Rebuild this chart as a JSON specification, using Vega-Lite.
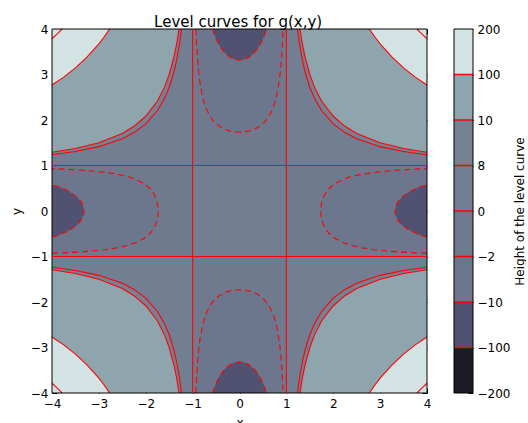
{
  "$schema": "https://vega.github.io/schema/vega-lite/v6.json",
  "padding": {"left": 10, "top": 15, "right": 0, "bottom": 0},
  "title": {"text": "Level curves for g(x,y)", "anchor": "middle", "dx": -30, "fontSize": 15, "fontWeight": "normal", "font": "DejaVu Sans", "color": "#000", "offset": -7},
  "config": {
    "font": "DejaVu Sans",
    "view": {"stroke": null},
    "axis": {"grid": false, "domain": false, "tickColor": "#000", "tickSize": -5, "labelFontSize": 12, "labelColor": "#000", "titleFontSize": 12, "titleFontWeight": "normal", "titleColor": "#000", "zindex": 1, "labelFont": "DejaVu Sans", "titleFont": "DejaVu Sans", "labelPadding": 9, "titlePadding": 7, "labelFlush": false, "labelOverlap": false}
  },
  "datasets": {
    "cells": [
      {"x1": -1, "x2": 1, "y1": -1, "y2": 1, "band": "0 to 8"},
      {"x1": 1, "x2": 4, "y1": 1, "y2": 4, "band": "0 to 8"},
      {"x1": -4, "x2": -1, "y1": 1, "y2": 4, "band": "0 to 8"},
      {"x1": 1, "x2": 4, "y1": -4, "y2": -1, "band": "0 to 8"},
      {"x1": -4, "x2": -1, "y1": -4, "y2": -1, "band": "0 to 8"},
      {"x1": -1, "x2": 1, "y1": 1, "y2": 4, "band": "-2 to 0"},
      {"x1": -1, "x2": 1, "y1": -4, "y2": -1, "band": "-2 to 0"},
      {"x1": -4, "x2": -1, "y1": -1, "y2": 1, "band": "-2 to 0"},
      {"x1": 1, "x2": 4, "y1": -1, "y2": 1, "band": "-2 to 0"}
    ],
    "zero": [
      {"k": "v-1", "x": -1, "y": -4}, {"k": "v-1", "x": -1, "y": 4},
      {"k": "v1", "x": 1, "y": -4}, {"k": "v1", "x": 1, "y": 4},
      {"k": "h-1", "x": -4, "y": -1}, {"k": "h-1", "x": 4, "y": -1},
      {"k": "h1", "x": -4, "y": 1}, {"k": "h1", "x": 4, "y": 1}
    ],
    "vc": [
      {"q": "TR", "c": 8, "x": 1.238, "y": 4, "e": 4},
      {"q": "TR", "c": 8, "x": 1.25, "y": 3.902, "e": 4},
      {"q": "TR", "c": 8, "x": 1.27, "y": 3.749, "e": 4},
      {"q": "TR", "c": 8, "x": 1.3, "y": 3.549, "e": 4},
      {"q": "TR", "c": 8, "x": 1.35, "y": 3.275, "e": 4},
      {"q": "TR", "c": 8, "x": 1.4, "y": 3.055, "e": 4},
      {"q": "TR", "c": 8, "x": 1.5, "y": 2.72, "e": 4},
      {"q": "TR", "c": 8, "x": 1.6, "y": 2.476, "e": 4},
      {"q": "TR", "c": 8, "x": 1.75, "y": 2.209, "e": 4},
      {"q": "TR", "c": 8, "x": 2, "y": 1.915, "e": 4},
      {"q": "TR", "c": 8, "x": 2.25, "y": 1.723, "e": 4},
      {"q": "TR", "c": 8, "x": 2.5, "y": 1.589, "e": 4},
      {"q": "TR", "c": 8, "x": 3, "y": 1.414, "e": 4},
      {"q": "TR", "c": 8, "x": 3.5, "y": 1.308, "e": 4},
      {"q": "TR", "c": 8, "x": 4, "y": 1.238, "e": 4},
      {"q": "TL", "c": 8, "x": -1.238, "y": 4, "e": 4},
      {"q": "TL", "c": 8, "x": -1.25, "y": 3.902, "e": 4},
      {"q": "TL", "c": 8, "x": -1.27, "y": 3.749, "e": 4},
      {"q": "TL", "c": 8, "x": -1.3, "y": 3.549, "e": 4},
      {"q": "TL", "c": 8, "x": -1.35, "y": 3.275, "e": 4},
      {"q": "TL", "c": 8, "x": -1.4, "y": 3.055, "e": 4},
      {"q": "TL", "c": 8, "x": -1.5, "y": 2.72, "e": 4},
      {"q": "TL", "c": 8, "x": -1.6, "y": 2.476, "e": 4},
      {"q": "TL", "c": 8, "x": -1.75, "y": 2.209, "e": 4},
      {"q": "TL", "c": 8, "x": -2, "y": 1.915, "e": 4},
      {"q": "TL", "c": 8, "x": -2.25, "y": 1.723, "e": 4},
      {"q": "TL", "c": 8, "x": -2.5, "y": 1.589, "e": 4},
      {"q": "TL", "c": 8, "x": -3, "y": 1.414, "e": 4},
      {"q": "TL", "c": 8, "x": -3.5, "y": 1.308, "e": 4},
      {"q": "TL", "c": 8, "x": -4, "y": 1.238, "e": 4},
      {"q": "BR", "c": 8, "x": 1.238, "y": -4, "e": -4},
      {"q": "BR", "c": 8, "x": 1.25, "y": -3.902, "e": -4},
      {"q": "BR", "c": 8, "x": 1.27, "y": -3.749, "e": -4},
      {"q": "BR", "c": 8, "x": 1.3, "y": -3.549, "e": -4},
      {"q": "BR", "c": 8, "x": 1.35, "y": -3.275, "e": -4},
      {"q": "BR", "c": 8, "x": 1.4, "y": -3.055, "e": -4},
      {"q": "BR", "c": 8, "x": 1.5, "y": -2.72, "e": -4},
      {"q": "BR", "c": 8, "x": 1.6, "y": -2.476, "e": -4},
      {"q": "BR", "c": 8, "x": 1.75, "y": -2.209, "e": -4},
      {"q": "BR", "c": 8, "x": 2, "y": -1.915, "e": -4},
      {"q": "BR", "c": 8, "x": 2.25, "y": -1.723, "e": -4},
      {"q": "BR", "c": 8, "x": 2.5, "y": -1.589, "e": -4},
      {"q": "BR", "c": 8, "x": 3, "y": -1.414, "e": -4},
      {"q": "BR", "c": 8, "x": 3.5, "y": -1.308, "e": -4},
      {"q": "BR", "c": 8, "x": 4, "y": -1.238, "e": -4},
      {"q": "BL", "c": 8, "x": -1.238, "y": -4, "e": -4},
      {"q": "BL", "c": 8, "x": -1.25, "y": -3.902, "e": -4},
      {"q": "BL", "c": 8, "x": -1.27, "y": -3.749, "e": -4},
      {"q": "BL", "c": 8, "x": -1.3, "y": -3.549, "e": -4},
      {"q": "BL", "c": 8, "x": -1.35, "y": -3.275, "e": -4},
      {"q": "BL", "c": 8, "x": -1.4, "y": -3.055, "e": -4},
      {"q": "BL", "c": 8, "x": -1.5, "y": -2.72, "e": -4},
      {"q": "BL", "c": 8, "x": -1.6, "y": -2.476, "e": -4},
      {"q": "BL", "c": 8, "x": -1.75, "y": -2.209, "e": -4},
      {"q": "BL", "c": 8, "x": -2, "y": -1.915, "e": -4},
      {"q": "BL", "c": 8, "x": -2.25, "y": -1.723, "e": -4},
      {"q": "BL", "c": 8, "x": -2.5, "y": -1.589, "e": -4},
      {"q": "BL", "c": 8, "x": -3, "y": -1.414, "e": -4},
      {"q": "BL", "c": 8, "x": -3.5, "y": -1.308, "e": -4},
      {"q": "BL", "c": 8, "x": -4, "y": -1.238, "e": -4},

      {"q": "TR", "c": 10, "x": 1.291, "y": 4, "e": 4},
      {"q": "TR", "c": 10, "x": 1.3, "y": 3.936, "e": 4},
      {"q": "TR", "c": 10, "x": 1.32, "y": 3.804, "e": 4},
      {"q": "TR", "c": 10, "x": 1.35, "y": 3.627, "e": 4},
      {"q": "TR", "c": 10, "x": 1.4, "y": 3.379, "e": 4},
      {"q": "TR", "c": 10, "x": 1.5, "y": 3, "e": 4},
      {"q": "TR", "c": 10, "x": 1.6, "y": 2.722, "e": 4},
      {"q": "TR", "c": 10, "x": 1.75, "y": 2.418, "e": 4},
      {"q": "TR", "c": 10, "x": 2, "y": 2.082, "e": 4},
      {"q": "TR", "c": 10, "x": 2.25, "y": 1.861, "e": 4},
      {"q": "TR", "c": 10, "x": 2.5, "y": 1.704, "e": 4},
      {"q": "TR", "c": 10, "x": 3, "y": 1.5, "e": 4},
      {"q": "TR", "c": 10, "x": 3.5, "y": 1.374, "e": 4},
      {"q": "TR", "c": 10, "x": 4, "y": 1.291, "e": 4},
      {"q": "TL", "c": 10, "x": -1.291, "y": 4, "e": 4},
      {"q": "TL", "c": 10, "x": -1.3, "y": 3.936, "e": 4},
      {"q": "TL", "c": 10, "x": -1.32, "y": 3.804, "e": 4},
      {"q": "TL", "c": 10, "x": -1.35, "y": 3.627, "e": 4},
      {"q": "TL", "c": 10, "x": -1.4, "y": 3.379, "e": 4},
      {"q": "TL", "c": 10, "x": -1.5, "y": 3, "e": 4},
      {"q": "TL", "c": 10, "x": -1.6, "y": 2.722, "e": 4},
      {"q": "TL", "c": 10, "x": -1.75, "y": 2.418, "e": 4},
      {"q": "TL", "c": 10, "x": -2, "y": 2.082, "e": 4},
      {"q": "TL", "c": 10, "x": -2.25, "y": 1.861, "e": 4},
      {"q": "TL", "c": 10, "x": -2.5, "y": 1.704, "e": 4},
      {"q": "TL", "c": 10, "x": -3, "y": 1.5, "e": 4},
      {"q": "TL", "c": 10, "x": -3.5, "y": 1.374, "e": 4},
      {"q": "TL", "c": 10, "x": -4, "y": 1.291, "e": 4},
      {"q": "BR", "c": 10, "x": 1.291, "y": -4, "e": -4},
      {"q": "BR", "c": 10, "x": 1.3, "y": -3.936, "e": -4},
      {"q": "BR", "c": 10, "x": 1.32, "y": -3.804, "e": -4},
      {"q": "BR", "c": 10, "x": 1.35, "y": -3.627, "e": -4},
      {"q": "BR", "c": 10, "x": 1.4, "y": -3.379, "e": -4},
      {"q": "BR", "c": 10, "x": 1.5, "y": -3, "e": -4},
      {"q": "BR", "c": 10, "x": 1.6, "y": -2.722, "e": -4},
      {"q": "BR", "c": 10, "x": 1.75, "y": -2.418, "e": -4},
      {"q": "BR", "c": 10, "x": 2, "y": -2.082, "e": -4},
      {"q": "BR", "c": 10, "x": 2.25, "y": -1.861, "e": -4},
      {"q": "BR", "c": 10, "x": 2.5, "y": -1.704, "e": -4},
      {"q": "BR", "c": 10, "x": 3, "y": -1.5, "e": -4},
      {"q": "BR", "c": 10, "x": 3.5, "y": -1.374, "e": -4},
      {"q": "BR", "c": 10, "x": 4, "y": -1.291, "e": -4},
      {"q": "BL", "c": 10, "x": -1.291, "y": -4, "e": -4},
      {"q": "BL", "c": 10, "x": -1.3, "y": -3.936, "e": -4},
      {"q": "BL", "c": 10, "x": -1.32, "y": -3.804, "e": -4},
      {"q": "BL", "c": 10, "x": -1.35, "y": -3.627, "e": -4},
      {"q": "BL", "c": 10, "x": -1.4, "y": -3.379, "e": -4},
      {"q": "BL", "c": 10, "x": -1.5, "y": -3, "e": -4},
      {"q": "BL", "c": 10, "x": -1.6, "y": -2.722, "e": -4},
      {"q": "BL", "c": 10, "x": -1.75, "y": -2.418, "e": -4},
      {"q": "BL", "c": 10, "x": -2, "y": -2.082, "e": -4},
      {"q": "BL", "c": 10, "x": -2.25, "y": -1.861, "e": -4},
      {"q": "BL", "c": 10, "x": -2.5, "y": -1.704, "e": -4},
      {"q": "BL", "c": 10, "x": -3, "y": -1.5, "e": -4},
      {"q": "BL", "c": 10, "x": -3.5, "y": -1.374, "e": -4},
      {"q": "BL", "c": 10, "x": -4, "y": -1.291, "e": -4},

      {"q": "TR", "c": 100, "x": 2.769, "y": 4, "e": 4},
      {"q": "TR", "c": 100, "x": 2.8, "y": 3.952, "e": 4},
      {"q": "TR", "c": 100, "x": 2.9, "y": 3.807, "e": 4},
      {"q": "TR", "c": 100, "x": 3, "y": 3.674, "e": 4},
      {"q": "TR", "c": 100, "x": 3.25, "y": 3.385, "e": 4},
      {"q": "TR", "c": 100, "x": 3.5, "y": 3.145, "e": 4},
      {"q": "TR", "c": 100, "x": 3.75, "y": 2.942, "e": 4},
      {"q": "TR", "c": 100, "x": 4, "y": 2.769, "e": 4},
      {"q": "TL", "c": 100, "x": -2.769, "y": 4, "e": 4},
      {"q": "TL", "c": 100, "x": -2.8, "y": 3.952, "e": 4},
      {"q": "TL", "c": 100, "x": -2.9, "y": 3.807, "e": 4},
      {"q": "TL", "c": 100, "x": -3, "y": 3.674, "e": 4},
      {"q": "TL", "c": 100, "x": -3.25, "y": 3.385, "e": 4},
      {"q": "TL", "c": 100, "x": -3.5, "y": 3.145, "e": 4},
      {"q": "TL", "c": 100, "x": -3.75, "y": 2.942, "e": 4},
      {"q": "TL", "c": 100, "x": -4, "y": 2.769, "e": 4},
      {"q": "BR", "c": 100, "x": 2.769, "y": -4, "e": -4},
      {"q": "BR", "c": 100, "x": 2.8, "y": -3.952, "e": -4},
      {"q": "BR", "c": 100, "x": 2.9, "y": -3.807, "e": -4},
      {"q": "BR", "c": 100, "x": 3, "y": -3.674, "e": -4},
      {"q": "BR", "c": 100, "x": 3.25, "y": -3.385, "e": -4},
      {"q": "BR", "c": 100, "x": 3.5, "y": -3.145, "e": -4},
      {"q": "BR", "c": 100, "x": 3.75, "y": -2.942, "e": -4},
      {"q": "BR", "c": 100, "x": 4, "y": -2.769, "e": -4},
      {"q": "BL", "c": 100, "x": -2.769, "y": -4, "e": -4},
      {"q": "BL", "c": 100, "x": -2.8, "y": -3.952, "e": -4},
      {"q": "BL", "c": 100, "x": -2.9, "y": -3.807, "e": -4},
      {"q": "BL", "c": 100, "x": -3, "y": -3.674, "e": -4},
      {"q": "BL", "c": 100, "x": -3.25, "y": -3.385, "e": -4},
      {"q": "BL", "c": 100, "x": -3.5, "y": -3.145, "e": -4},
      {"q": "BL", "c": 100, "x": -3.75, "y": -2.942, "e": -4},
      {"q": "BL", "c": 100, "x": -4, "y": -2.769, "e": -4},

      {"q": "TR", "c": 200, "x": 3.786, "y": 4, "e": 4},
      {"q": "TR", "c": 200, "x": 3.85, "y": 3.933, "e": 4},
      {"q": "TR", "c": 200, "x": 3.9, "y": 3.883, "e": 4},
      {"q": "TR", "c": 200, "x": 4, "y": 3.786, "e": 4},
      {"q": "TL", "c": 200, "x": -3.786, "y": 4, "e": 4},
      {"q": "TL", "c": 200, "x": -3.85, "y": 3.933, "e": 4},
      {"q": "TL", "c": 200, "x": -3.9, "y": 3.883, "e": 4},
      {"q": "TL", "c": 200, "x": -4, "y": 3.786, "e": 4},
      {"q": "BR", "c": 200, "x": 3.786, "y": -4, "e": -4},
      {"q": "BR", "c": 200, "x": 3.85, "y": -3.933, "e": -4},
      {"q": "BR", "c": 200, "x": 3.9, "y": -3.883, "e": -4},
      {"q": "BR", "c": 200, "x": 4, "y": -3.786, "e": -4},
      {"q": "BL", "c": 200, "x": -3.786, "y": -4, "e": -4},
      {"q": "BL", "c": 200, "x": -3.85, "y": -3.933, "e": -4},
      {"q": "BL", "c": 200, "x": -3.9, "y": -3.883, "e": -4},
      {"q": "BL", "c": 200, "x": -4, "y": -3.786, "e": -4},

      {"q": "T", "c": -2, "x": -0.931, "y": 4, "e": 4},
      {"q": "T", "c": -2, "x": -0.925, "y": 3.854, "e": 4},
      {"q": "T", "c": -2, "x": -0.92, "y": 3.745, "e": 4},
      {"q": "T", "c": -2, "x": -0.9, "y": 3.395, "e": 4},
      {"q": "T", "c": -2, "x": -0.88, "y": 3.141, "e": 4},
      {"q": "T", "c": -2, "x": -0.85, "y": 2.865, "e": 4},
      {"q": "T", "c": -2, "x": -0.8, "y": 2.56, "e": 4},
      {"q": "T", "c": -2, "x": -0.75, "y": 2.36, "e": 4},
      {"q": "T", "c": -2, "x": -0.7, "y": 2.219, "e": 4},
      {"q": "T", "c": -2, "x": -0.6, "y": 2.031, "e": 4},
      {"q": "T", "c": -2, "x": -0.5, "y": 1.915, "e": 4},
      {"q": "T", "c": -2, "x": -0.4, "y": 1.839, "e": 4},
      {"q": "T", "c": -2, "x": -0.3, "y": 1.788, "e": 4},
      {"q": "T", "c": -2, "x": -0.2, "y": 1.756, "e": 4},
      {"q": "T", "c": -2, "x": -0.1, "y": 1.738, "e": 4},
      {"q": "T", "c": -2, "x": 0, "y": 1.732, "e": 4},
      {"q": "T", "c": -2, "x": 0.1, "y": 1.738, "e": 4},
      {"q": "T", "c": -2, "x": 0.2, "y": 1.756, "e": 4},
      {"q": "T", "c": -2, "x": 0.3, "y": 1.788, "e": 4},
      {"q": "T", "c": -2, "x": 0.4, "y": 1.839, "e": 4},
      {"q": "T", "c": -2, "x": 0.5, "y": 1.915, "e": 4},
      {"q": "T", "c": -2, "x": 0.6, "y": 2.031, "e": 4},
      {"q": "T", "c": -2, "x": 0.7, "y": 2.219, "e": 4},
      {"q": "T", "c": -2, "x": 0.75, "y": 2.36, "e": 4},
      {"q": "T", "c": -2, "x": 0.8, "y": 2.56, "e": 4},
      {"q": "T", "c": -2, "x": 0.85, "y": 2.865, "e": 4},
      {"q": "T", "c": -2, "x": 0.88, "y": 3.141, "e": 4},
      {"q": "T", "c": -2, "x": 0.9, "y": 3.395, "e": 4},
      {"q": "T", "c": -2, "x": 0.92, "y": 3.745, "e": 4},
      {"q": "T", "c": -2, "x": 0.925, "y": 3.854, "e": 4},
      {"q": "T", "c": -2, "x": 0.931, "y": 4, "e": 4},
      {"q": "B", "c": -2, "x": -0.931, "y": -4, "e": -4},
      {"q": "B", "c": -2, "x": -0.925, "y": -3.854, "e": -4},
      {"q": "B", "c": -2, "x": -0.92, "y": -3.745, "e": -4},
      {"q": "B", "c": -2, "x": -0.9, "y": -3.395, "e": -4},
      {"q": "B", "c": -2, "x": -0.88, "y": -3.141, "e": -4},
      {"q": "B", "c": -2, "x": -0.85, "y": -2.865, "e": -4},
      {"q": "B", "c": -2, "x": -0.8, "y": -2.56, "e": -4},
      {"q": "B", "c": -2, "x": -0.75, "y": -2.36, "e": -4},
      {"q": "B", "c": -2, "x": -0.7, "y": -2.219, "e": -4},
      {"q": "B", "c": -2, "x": -0.6, "y": -2.031, "e": -4},
      {"q": "B", "c": -2, "x": -0.5, "y": -1.915, "e": -4},
      {"q": "B", "c": -2, "x": -0.4, "y": -1.839, "e": -4},
      {"q": "B", "c": -2, "x": -0.3, "y": -1.788, "e": -4},
      {"q": "B", "c": -2, "x": -0.2, "y": -1.756, "e": -4},
      {"q": "B", "c": -2, "x": -0.1, "y": -1.738, "e": -4},
      {"q": "B", "c": -2, "x": 0, "y": -1.732, "e": -4},
      {"q": "B", "c": -2, "x": 0.1, "y": -1.738, "e": -4},
      {"q": "B", "c": -2, "x": 0.2, "y": -1.756, "e": -4},
      {"q": "B", "c": -2, "x": 0.3, "y": -1.788, "e": -4},
      {"q": "B", "c": -2, "x": 0.4, "y": -1.839, "e": -4},
      {"q": "B", "c": -2, "x": 0.5, "y": -1.915, "e": -4},
      {"q": "B", "c": -2, "x": 0.6, "y": -2.031, "e": -4},
      {"q": "B", "c": -2, "x": 0.7, "y": -2.219, "e": -4},
      {"q": "B", "c": -2, "x": 0.75, "y": -2.36, "e": -4},
      {"q": "B", "c": -2, "x": 0.8, "y": -2.56, "e": -4},
      {"q": "B", "c": -2, "x": 0.85, "y": -2.865, "e": -4},
      {"q": "B", "c": -2, "x": 0.88, "y": -3.141, "e": -4},
      {"q": "B", "c": -2, "x": 0.9, "y": -3.395, "e": -4},
      {"q": "B", "c": -2, "x": 0.92, "y": -3.745, "e": -4},
      {"q": "B", "c": -2, "x": 0.925, "y": -3.854, "e": -4},
      {"q": "B", "c": -2, "x": 0.931, "y": -4, "e": -4},

      {"q": "T", "c": -10, "x": -0.577, "y": 4, "e": 4},
      {"q": "T", "c": -10, "x": -0.55, "y": 3.916, "e": 4},
      {"q": "T", "c": -10, "x": -0.5, "y": 3.786, "e": 4},
      {"q": "T", "c": -10, "x": -0.45, "y": 3.68, "e": 4},
      {"q": "T", "c": -10, "x": -0.4, "y": 3.592, "e": 4},
      {"q": "T", "c": -10, "x": -0.3, "y": 3.462, "e": 4},
      {"q": "T", "c": -10, "x": -0.2, "y": 3.379, "e": 4},
      {"q": "T", "c": -10, "x": -0.1, "y": 3.332, "e": 4},
      {"q": "T", "c": -10, "x": 0, "y": 3.317, "e": 4},
      {"q": "T", "c": -10, "x": 0.1, "y": 3.332, "e": 4},
      {"q": "T", "c": -10, "x": 0.2, "y": 3.379, "e": 4},
      {"q": "T", "c": -10, "x": 0.3, "y": 3.462, "e": 4},
      {"q": "T", "c": -10, "x": 0.4, "y": 3.592, "e": 4},
      {"q": "T", "c": -10, "x": 0.45, "y": 3.68, "e": 4},
      {"q": "T", "c": -10, "x": 0.5, "y": 3.786, "e": 4},
      {"q": "T", "c": -10, "x": 0.55, "y": 3.916, "e": 4},
      {"q": "T", "c": -10, "x": 0.577, "y": 4, "e": 4},
      {"q": "B", "c": -10, "x": -0.577, "y": -4, "e": -4},
      {"q": "B", "c": -10, "x": -0.55, "y": -3.916, "e": -4},
      {"q": "B", "c": -10, "x": -0.5, "y": -3.786, "e": -4},
      {"q": "B", "c": -10, "x": -0.45, "y": -3.68, "e": -4},
      {"q": "B", "c": -10, "x": -0.4, "y": -3.592, "e": -4},
      {"q": "B", "c": -10, "x": -0.3, "y": -3.462, "e": -4},
      {"q": "B", "c": -10, "x": -0.2, "y": -3.379, "e": -4},
      {"q": "B", "c": -10, "x": -0.1, "y": -3.332, "e": -4},
      {"q": "B", "c": -10, "x": 0, "y": -3.317, "e": -4},
      {"q": "B", "c": -10, "x": 0.1, "y": -3.332, "e": -4},
      {"q": "B", "c": -10, "x": 0.2, "y": -3.379, "e": -4},
      {"q": "B", "c": -10, "x": 0.3, "y": -3.462, "e": -4},
      {"q": "B", "c": -10, "x": 0.4, "y": -3.592, "e": -4},
      {"q": "B", "c": -10, "x": 0.45, "y": -3.68, "e": -4},
      {"q": "B", "c": -10, "x": 0.5, "y": -3.786, "e": -4},
      {"q": "B", "c": -10, "x": 0.55, "y": -3.916, "e": -4},
      {"q": "B", "c": -10, "x": 0.577, "y": -4, "e": -4}
    ],
    "hc": [
      {"q": "R", "c": -2, "y": -0.931, "x": 4, "e": 4},
      {"q": "R", "c": -2, "y": -0.925, "x": 3.854, "e": 4},
      {"q": "R", "c": -2, "y": -0.92, "x": 3.745, "e": 4},
      {"q": "R", "c": -2, "y": -0.9, "x": 3.395, "e": 4},
      {"q": "R", "c": -2, "y": -0.88, "x": 3.141, "e": 4},
      {"q": "R", "c": -2, "y": -0.85, "x": 2.865, "e": 4},
      {"q": "R", "c": -2, "y": -0.8, "x": 2.56, "e": 4},
      {"q": "R", "c": -2, "y": -0.75, "x": 2.36, "e": 4},
      {"q": "R", "c": -2, "y": -0.7, "x": 2.219, "e": 4},
      {"q": "R", "c": -2, "y": -0.6, "x": 2.031, "e": 4},
      {"q": "R", "c": -2, "y": -0.5, "x": 1.915, "e": 4},
      {"q": "R", "c": -2, "y": -0.4, "x": 1.839, "e": 4},
      {"q": "R", "c": -2, "y": -0.3, "x": 1.788, "e": 4},
      {"q": "R", "c": -2, "y": -0.2, "x": 1.756, "e": 4},
      {"q": "R", "c": -2, "y": -0.1, "x": 1.738, "e": 4},
      {"q": "R", "c": -2, "y": 0, "x": 1.732, "e": 4},
      {"q": "R", "c": -2, "y": 0.1, "x": 1.738, "e": 4},
      {"q": "R", "c": -2, "y": 0.2, "x": 1.756, "e": 4},
      {"q": "R", "c": -2, "y": 0.3, "x": 1.788, "e": 4},
      {"q": "R", "c": -2, "y": 0.4, "x": 1.839, "e": 4},
      {"q": "R", "c": -2, "y": 0.5, "x": 1.915, "e": 4},
      {"q": "R", "c": -2, "y": 0.6, "x": 2.031, "e": 4},
      {"q": "R", "c": -2, "y": 0.7, "x": 2.219, "e": 4},
      {"q": "R", "c": -2, "y": 0.75, "x": 2.36, "e": 4},
      {"q": "R", "c": -2, "y": 0.8, "x": 2.56, "e": 4},
      {"q": "R", "c": -2, "y": 0.85, "x": 2.865, "e": 4},
      {"q": "R", "c": -2, "y": 0.88, "x": 3.141, "e": 4},
      {"q": "R", "c": -2, "y": 0.9, "x": 3.395, "e": 4},
      {"q": "R", "c": -2, "y": 0.92, "x": 3.745, "e": 4},
      {"q": "R", "c": -2, "y": 0.925, "x": 3.854, "e": 4},
      {"q": "R", "c": -2, "y": 0.931, "x": 4, "e": 4},
      {"q": "L", "c": -2, "y": -0.931, "x": -4, "e": -4},
      {"q": "L", "c": -2, "y": -0.925, "x": -3.854, "e": -4},
      {"q": "L", "c": -2, "y": -0.92, "x": -3.745, "e": -4},
      {"q": "L", "c": -2, "y": -0.9, "x": -3.395, "e": -4},
      {"q": "L", "c": -2, "y": -0.88, "x": -3.141, "e": -4},
      {"q": "L", "c": -2, "y": -0.85, "x": -2.865, "e": -4},
      {"q": "L", "c": -2, "y": -0.8, "x": -2.56, "e": -4},
      {"q": "L", "c": -2, "y": -0.75, "x": -2.36, "e": -4},
      {"q": "L", "c": -2, "y": -0.7, "x": -2.219, "e": -4},
      {"q": "L", "c": -2, "y": -0.6, "x": -2.031, "e": -4},
      {"q": "L", "c": -2, "y": -0.5, "x": -1.915, "e": -4},
      {"q": "L", "c": -2, "y": -0.4, "x": -1.839, "e": -4},
      {"q": "L", "c": -2, "y": -0.3, "x": -1.788, "e": -4},
      {"q": "L", "c": -2, "y": -0.2, "x": -1.756, "e": -4},
      {"q": "L", "c": -2, "y": -0.1, "x": -1.738, "e": -4},
      {"q": "L", "c": -2, "y": 0, "x": -1.732, "e": -4},
      {"q": "L", "c": -2, "y": 0.1, "x": -1.738, "e": -4},
      {"q": "L", "c": -2, "y": 0.2, "x": -1.756, "e": -4},
      {"q": "L", "c": -2, "y": 0.3, "x": -1.788, "e": -4},
      {"q": "L", "c": -2, "y": 0.4, "x": -1.839, "e": -4},
      {"q": "L", "c": -2, "y": 0.5, "x": -1.915, "e": -4},
      {"q": "L", "c": -2, "y": 0.6, "x": -2.031, "e": -4},
      {"q": "L", "c": -2, "y": 0.7, "x": -2.219, "e": -4},
      {"q": "L", "c": -2, "y": 0.75, "x": -2.36, "e": -4},
      {"q": "L", "c": -2, "y": 0.8, "x": -2.56, "e": -4},
      {"q": "L", "c": -2, "y": 0.85, "x": -2.865, "e": -4},
      {"q": "L", "c": -2, "y": 0.88, "x": -3.141, "e": -4},
      {"q": "L", "c": -2, "y": 0.9, "x": -3.395, "e": -4},
      {"q": "L", "c": -2, "y": 0.92, "x": -3.745, "e": -4},
      {"q": "L", "c": -2, "y": 0.925, "x": -3.854, "e": -4},
      {"q": "L", "c": -2, "y": 0.931, "x": -4, "e": -4},

      {"q": "R", "c": -10, "y": -0.577, "x": 4, "e": 4},
      {"q": "R", "c": -10, "y": -0.55, "x": 3.916, "e": 4},
      {"q": "R", "c": -10, "y": -0.5, "x": 3.786, "e": 4},
      {"q": "R", "c": -10, "y": -0.45, "x": 3.68, "e": 4},
      {"q": "R", "c": -10, "y": -0.4, "x": 3.592, "e": 4},
      {"q": "R", "c": -10, "y": -0.3, "x": 3.462, "e": 4},
      {"q": "R", "c": -10, "y": -0.2, "x": 3.379, "e": 4},
      {"q": "R", "c": -10, "y": -0.1, "x": 3.332, "e": 4},
      {"q": "R", "c": -10, "y": 0, "x": 3.317, "e": 4},
      {"q": "R", "c": -10, "y": 0.1, "x": 3.332, "e": 4},
      {"q": "R", "c": -10, "y": 0.2, "x": 3.379, "e": 4},
      {"q": "R", "c": -10, "y": 0.3, "x": 3.462, "e": 4},
      {"q": "R", "c": -10, "y": 0.4, "x": 3.592, "e": 4},
      {"q": "R", "c": -10, "y": 0.45, "x": 3.68, "e": 4},
      {"q": "R", "c": -10, "y": 0.5, "x": 3.786, "e": 4},
      {"q": "R", "c": -10, "y": 0.55, "x": 3.916, "e": 4},
      {"q": "R", "c": -10, "y": 0.577, "x": 4, "e": 4},
      {"q": "L", "c": -10, "y": -0.577, "x": -4, "e": -4},
      {"q": "L", "c": -10, "y": -0.55, "x": -3.916, "e": -4},
      {"q": "L", "c": -10, "y": -0.5, "x": -3.786, "e": -4},
      {"q": "L", "c": -10, "y": -0.45, "x": -3.68, "e": -4},
      {"q": "L", "c": -10, "y": -0.4, "x": -3.592, "e": -4},
      {"q": "L", "c": -10, "y": -0.3, "x": -3.462, "e": -4},
      {"q": "L", "c": -10, "y": -0.2, "x": -3.379, "e": -4},
      {"q": "L", "c": -10, "y": -0.1, "x": -3.332, "e": -4},
      {"q": "L", "c": -10, "y": 0, "x": -3.317, "e": -4},
      {"q": "L", "c": -10, "y": 0.1, "x": -3.332, "e": -4},
      {"q": "L", "c": -10, "y": 0.2, "x": -3.379, "e": -4},
      {"q": "L", "c": -10, "y": 0.3, "x": -3.462, "e": -4},
      {"q": "L", "c": -10, "y": 0.4, "x": -3.592, "e": -4},
      {"q": "L", "c": -10, "y": 0.45, "x": -3.68, "e": -4},
      {"q": "L", "c": -10, "y": 0.5, "x": -3.786, "e": -4},
      {"q": "L", "c": -10, "y": 0.55, "x": -3.916, "e": -4},
      {"q": "L", "c": -10, "y": 0.577, "x": -4, "e": -4}
    ],
    "bar": [
      {"lo": 0, "hi": 1, "band": "-200 to -100"},
      {"lo": 1, "hi": 2, "band": "-100 to -10"},
      {"lo": 2, "hi": 3, "band": "-10 to -2"},
      {"lo": 3, "hi": 4, "band": "-2 to 0"},
      {"lo": 4, "hi": 5, "band": "0 to 8"},
      {"lo": 5, "hi": 6, "band": "8 to 10"},
      {"lo": 6, "hi": 7, "band": "10 to 100"},
      {"lo": 7, "hi": 8, "band": "100 to 200"}
    ],
    "barlines": [{"lv": 1}, {"lv": 2}, {"lv": 3}, {"lv": 4}, {"lv": 5}, {"lv": 6}, {"lv": 7}]
  },
  "spacing": 22,
  "hconcat": [
    {
      "width": 375,
      "height": 364,
      "resolve": {"axis": {"x": "independent", "y": "independent"}},
      "layer": [
        {
          "data": {"name": "cells"},
          "mark": {"type": "rect"},
          "encoding": {
            "x": {"field": "x1", "type": "quantitative", "scale": {"domain": [-4, 4], "nice": false, "zero": false},
                  "axis": {"orient": "bottom", "values": [-4, -3, -2, -1, 0, 1, 2, 3, 4], "title": "x", "labelPadding": 10, "titlePadding": 8}},
            "x2": {"field": "x2"},
            "y": {"field": "y1", "type": "quantitative", "scale": {"domain": [-4, 4], "nice": false, "zero": false},
                  "axis": {"orient": "left", "values": [-4, -3, -2, -1, 0, 1, 2, 3, 4], "title": "y"}},
            "y2": {"field": "y2"},
            "color": {"field": "band", "type": "nominal", "legend": null,
                      "scale": {"domain": ["-200 to -100", "-100 to -10", "-10 to -2", "-2 to 0", "0 to 8", "8 to 10", "10 to 100", "100 to 200"],
                                "range": ["#1c1c27", "#515171", "#6c768c", "#6f7a8f", "#727e92", "#758294", "#8ea5ae", "#d3e3e3"]}}
          }
        },
        {
          "data": {"name": "vc"},
          "transform": [{"filter": {"field": "c", "equal": 8}}],
          "mark": {"type": "area", "color": "#758294", "opacity": 1},
          "encoding": {
            "x": {"field": "x", "type": "quantitative", "axis": null},
            "y": {"field": "y", "type": "quantitative", "axis": null},
            "y2": {"field": "e"},
            "detail": {"field": "q"}
          }
        },
        {
          "data": {"name": "vc"},
          "transform": [{"filter": {"field": "c", "equal": -2}}],
          "mark": {"type": "area", "color": "#6c768c", "opacity": 1},
          "encoding": {
            "x": {"field": "x", "type": "quantitative", "axis": null},
            "y": {"field": "y", "type": "quantitative", "axis": null},
            "y2": {"field": "e"},
            "detail": {"field": "q"}
          }
        },
        {
          "data": {"name": "hc"},
          "transform": [{"filter": {"field": "c", "equal": -2}}],
          "mark": {"type": "area", "orient": "horizontal", "color": "#6c768c", "opacity": 1},
          "encoding": {
            "y": {"field": "y", "type": "quantitative", "axis": null},
            "x": {"field": "x", "type": "quantitative", "axis": null},
            "x2": {"field": "e"},
            "detail": {"field": "q"}
          }
        },
        {
          "data": {"name": "vc"},
          "transform": [{"filter": {"field": "c", "equal": 10}}],
          "mark": {"type": "area", "color": "#8ea5ae", "opacity": 1},
          "encoding": {
            "x": {"field": "x", "type": "quantitative", "axis": null},
            "y": {"field": "y", "type": "quantitative", "axis": null},
            "y2": {"field": "e"},
            "detail": {"field": "q"}
          }
        },
        {
          "data": {"name": "vc"},
          "transform": [{"filter": {"field": "c", "equal": -10}}],
          "mark": {"type": "area", "color": "#515171", "opacity": 1},
          "encoding": {
            "x": {"field": "x", "type": "quantitative", "axis": null},
            "y": {"field": "y", "type": "quantitative", "axis": null},
            "y2": {"field": "e"},
            "detail": {"field": "q"}
          }
        },
        {
          "data": {"name": "hc"},
          "transform": [{"filter": {"field": "c", "equal": -10}}],
          "mark": {"type": "area", "orient": "horizontal", "color": "#515171", "opacity": 1},
          "encoding": {
            "y": {"field": "y", "type": "quantitative", "axis": null},
            "x": {"field": "x", "type": "quantitative", "axis": null},
            "x2": {"field": "e"},
            "detail": {"field": "q"}
          }
        },
        {
          "data": {"name": "vc"},
          "transform": [{"filter": {"field": "c", "equal": 100}}],
          "mark": {"type": "area", "color": "#d3e3e3", "opacity": 1},
          "encoding": {
            "x": {"field": "x", "type": "quantitative", "axis": null},
            "y": {"field": "y", "type": "quantitative", "axis": null},
            "y2": {"field": "e"},
            "detail": {"field": "q"}
          }
        },
        {
          "data": {"name": "vc"},
          "transform": [{"filter": {"field": "c", "gte": 0}}],
          "mark": {"type": "line", "color": "#ff0000", "strokeWidth": 1.1},
          "encoding": {
            "x": {"field": "x", "type": "quantitative", "axis": null},
            "y": {"field": "y", "type": "quantitative", "axis": null},
            "detail": [{"field": "q"}, {"field": "c"}]
          }
        },
        {
          "data": {"name": "vc"},
          "transform": [{"filter": {"field": "c", "lt": 0}}],
          "mark": {"type": "line", "color": "#ff0000", "strokeWidth": 1.1, "strokeDash": [6, 4]},
          "encoding": {
            "x": {"field": "x", "type": "quantitative", "axis": null},
            "y": {"field": "y", "type": "quantitative", "axis": null},
            "detail": [{"field": "q"}, {"field": "c"}]
          }
        },
        {
          "data": {"name": "hc"},
          "mark": {"type": "line", "color": "#ff0000", "strokeWidth": 1.1, "strokeDash": [6, 4]},
          "encoding": {
            "x": {"field": "x", "type": "quantitative", "axis": null},
            "y": {"field": "y", "type": "quantitative", "axis": null},
            "order": {"field": "y", "type": "quantitative"},
            "detail": [{"field": "q"}, {"field": "c"}]
          }
        },
        {
          "data": {"name": "cells"},
          "transform": [{"filter": {"field": "band", "equal": "-2 to 0"}}],
          "mark": {"type": "rect", "opacity": 0},
          "encoding": {
            "x": {"field": "x1", "type": "quantitative", "axis": {"orient": "top", "labels": false, "title": null, "values": [-4, -3, -2, -1, 0, 1, 2, 3, 4]}},
            "x2": {"field": "x2"},
            "y": {"field": "y1", "type": "quantitative", "axis": {"orient": "right", "labels": false, "title": null, "values": [-4, -3, -2, -1, 0, 1, 2, 3, 4]}},
            "y2": {"field": "y2"}
          }
        },
        {
          "data": {"values": [{}]},
          "mark": {"type": "rect", "filled": false, "color": "#000", "strokeWidth": 1},
          "encoding": {
            "x": {"datum": -4, "type": "quantitative", "axis": null},
            "x2": {"datum": 4},
            "y": {"datum": -4, "type": "quantitative", "axis": null},
            "y2": {"datum": 4}
          }
        },
        {
          "data": {"name": "zero"},
          "mark": {"type": "line", "color": "#ff0000", "strokeWidth": 1.1},
          "encoding": {
            "x": {"field": "x", "type": "quantitative", "axis": null},
            "y": {"field": "y", "type": "quantitative", "axis": null},
            "order": {"field": "y", "type": "quantitative"},
            "detail": {"field": "k"}
          }
        },
        {
          "data": {"values": [{"y": -1}, {"y": 1}]},
          "mark": {"type": "rule", "color": "#ff0000", "strokeWidth": 1.1},
          "encoding": {"y": {"field": "y", "type": "quantitative", "axis": null}}
        }
      ]
    },
    {
      "width": 19,
      "height": 364,
      "layer": [
        {
          "data": {"name": "bar"},
          "mark": {"type": "rect"},
          "encoding": {
            "y": {"field": "lo", "type": "quantitative", "scale": {"domain": [0, 8], "nice": false, "zero": false},
                  "axis": {"orient": "right", "values": [0, 1, 2, 3, 4, 5, 6, 7, 8],
                           "labelExpr": "['−200','−100','−10','−2','0','8','10','100','200'][datum.value]",
                           "title": "Height of the level curve", "titleAngle": 270, "titlePadding": 17}},
            "y2": {"field": "hi"},
            "color": {"field": "band", "type": "nominal", "legend": null,
                      "scale": {"domain": ["-200 to -100", "-100 to -10", "-10 to -2", "-2 to 0", "0 to 8", "8 to 10", "10 to 100", "100 to 200"],
                                "range": ["#1c1c27", "#515171", "#6c768c", "#6f7a8f", "#727e92", "#758294", "#8ea5ae", "#d3e3e3"]}}
          }
        },
        {
          "data": {"name": "barlines"},
          "mark": {"type": "rule", "color": "#ff0000", "strokeWidth": 1.5},
          "encoding": {"y": {"field": "lv", "type": "quantitative"}}
        },
        {
          "data": {"values": [{}]},
          "mark": {"type": "rect", "filled": false, "color": "#000", "strokeWidth": 1},
          "encoding": {"y": {"datum": 0, "type": "quantitative"}, "y2": {"datum": 8}}
        }
      ]
    }
  ]
}
